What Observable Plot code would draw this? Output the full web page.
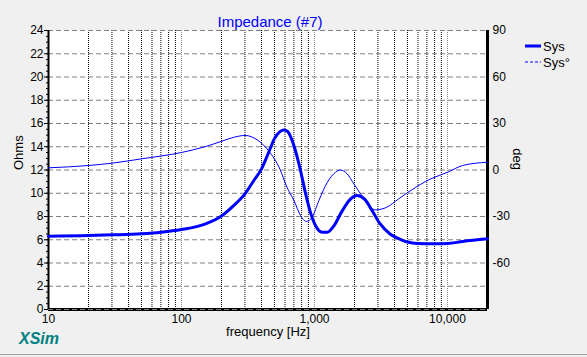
<!DOCTYPE html>
<html>
<head>
<meta charset="utf-8">
<script src="https://cdn.jsdelivr.net/npm/d3@7"></script>
<script src="https://cdn.jsdelivr.net/npm/@observablehq/plot@0.6"></script>
<style>
  html, body { margin: 0; padding: 0; background: #f0f0f0; }
  #wrap { position: relative; width: 587px; height: 357px; overflow: hidden; background: #f0f0f0;
          font-family: "Liberation Sans", Arial, sans-serif; }
  #wrap svg.plot { position: absolute; left: 0; top: 0; }
  #legend { position: absolute; left: 0; top: 0; }
  .xsim { position: absolute; left: 19px; top: 330px; color: #008080; font-weight: bold; font-style: italic; font-size: 16px; }
  .bottomline { position: absolute; left: 0; top: 354px; width: 587px; height: 1px; background: #a0a0a0; }
</style>
</head>
<body>
<div id="wrap"></div>
<script>
// ---- data ----
const impFreq = [10, 20, 30, 50, 70, 100, 150, 200, 250, 300, 350, 400, 450, 500, 550, 590, 630, 700, 780, 860, 930, 1020, 1140, 1250, 1400, 1600, 1850, 2100, 2400, 2700, 3100, 3700, 4300, 5000, 6000, 8000, 10000, 13000, 20000];
const impOhm  = [6.31, 6.36, 6.42, 6.52, 6.65, 6.88, 7.35, 8.05, 9.0, 9.95, 11.1, 12.1, 13.45, 14.7, 15.3, 15.45, 15.3, 14.1, 12.1, 9.9, 8.4, 7.2, 6.65, 6.65, 7.2, 8.4, 9.45, 9.8, 9.45, 8.55, 7.4, 6.5, 6.1, 5.8, 5.68, 5.65, 5.67, 5.85, 6.08];

const phFreq = [10, 20, 30, 50, 100, 150, 200, 250, 300, 370, 450, 550, 620, 700, 785, 870, 960, 1080, 1250, 1440, 1570, 1760, 1980, 2220, 2560, 2880, 3500, 4300, 5300, 7500, 10000, 13000, 20000];
const phDeg  = [1.4, 2.9, 4.4, 7.2, 11.3, 15.0, 18.5, 21.2, 22.3, 19.5, 12.6, 0.5, -11, -19.6, -29.3, -33.2, -30.5, -19.6, -7.9, -1.5, 0, -2.5, -9, -15.4, -22.9, -25.7, -24, -18.6, -13.2, -5.7, -1.5, 2.9, 5];

const ohmTicks = [0, 2, 4, 6, 8, 10, 12, 14, 16, 18, 20, 22, 24];
const ohmMinor = d3.range(0, 24.01, 0.5);
const degTicks = [90, 60, 30, 0, -30, -60];
const freqTicks = [10, 100, 1000, 10000];
const freqMinor = [20, 30, 40, 50, 60, 70, 80, 90, 200, 300, 400, 500, 600, 700, 800, 900, 2000, 3000, 4000, 5000, 6000, 7000, 8000, 9000];
const freqDecade = [100, 1000, 10000];

const title = "Impedance (#7)";
const xLabel = "frequency [Hz]";
const yLabel = "Ohms";
const y2Label = "deg";
const seriesNames = ["Sys", "Sys°"];

// ---- tables ----
const imp = impFreq.map((f, i) => ({f, z: impOhm[i]}));
const ph = phFreq.map((f, i) => ({f, deg: phDeg[i]}));
// phase axis: -90..90 deg shares the frame with 0..24 Ohms
const degToOhm = d => 12 + d / 7.5;
const ohmToDeg = o => (o - 12) * 7.5;

const plot = Plot.plot({
  width: 587,
  height: 357,
  marginLeft: 48,
  marginRight: 100,
  marginTop: 30,
  marginBottom: 48,
  style: {fontFamily: "'Liberation Sans', Arial, sans-serif", fontSize: "12px", background: "transparent", color: "black"},
  x: {type: "log", domain: [10, 20000]},
  y: {domain: [0, 24]},
  marks: [
    Plot.frame({fill: "white", stroke: null}),
    Plot.ruleX(freqMinor, {stroke: "black", strokeDasharray: "1,1", strokeWidth: 1}),
    Plot.ruleX(freqDecade, {stroke: "#8c8c8c", strokeDasharray: "1,1", strokeWidth: 1}),
    Plot.ruleY([0], {stroke: "black", strokeWidth: 3}),
    Plot.ruleY(ohmTicks, {stroke: "#808080", strokeDasharray: "5,3", strokeWidth: 1}),
    Plot.ruleX([10], {stroke: "black", strokeWidth: 2}),
    Plot.ruleX([20000], {stroke: "black", strokeWidth: 3}),
    Plot.line(ph, {x: "f", y: d => degToOhm(d.deg), stroke: "#0000ff", strokeWidth: 1, curve: "monotone-x"}),
    Plot.line(imp, {x: "f", y: "z", stroke: "#0000ff", strokeWidth: 3, curve: "monotone-x"}),
    Plot.axisY(ohmMinor, {anchor: "left", tickSize: 2, tickFormat: () => "", label: null}),
    Plot.axisY(ohmTicks, {anchor: "left", tickSize: 4, tickPadding: 1, label: null, fontSize: 12}),
    Plot.axisY(degTicks.map(degToOhm), {anchor: "right", tickSize: 0, tickPadding: 5, label: null,
      tickFormat: o => String(Math.round(ohmToDeg(o))), fontSize: 12}),
    Plot.axisX(freqTicks, {anchor: "bottom", tickSize: 0, tickPadding: 5, label: null,
      tickFormat: d3.format(","), fontSize: 12}),
    Plot.text([title], {frameAnchor: "top", dy: -14, dx: 2, fill: "#0000ff", fontSize: 15}),
    Plot.text([xLabel], {frameAnchor: "bottom", dy: 26, fontSize: 13, fill: "black"}),
    Plot.text([yLabel], {frameAnchor: "left", dx: -30, rotate: -90, fontSize: 13, fill: "black"}),
    Plot.text([y2Label], {frameAnchor: "right", dx: 30, rotate: 90, fontSize: 13, fill: "black"})
  ]
});
plot.classList.add("plot");
const wrap = document.getElementById("wrap");
wrap.appendChild(plot);

// legend
const leg = d3.select(wrap).append("svg").attr("id", "legend").attr("width", 587).attr("height", 357);
const items = [{name: seriesNames[0], w: 3, dash: null}, {name: seriesNames[1], w: 1, dash: "3,2"}];
items.forEach((it, i) => {
  const y = 46 + i * 16;
  leg.append("line").attr("x1", 525).attr("x2", 541).attr("y1", y).attr("y2", y)
    .attr("stroke", "#0000ff").attr("stroke-width", it.w).attr("stroke-dasharray", it.dash);
  leg.append("text").attr("x", 543).attr("y", y).attr("dy", "0.35em")
    .attr("font-family", "'Liberation Sans', Arial, sans-serif").attr("font-size", 13).attr("fill", "black").text(it.name);
});

d3.select(wrap).append("div").attr("class", "xsim").text("XSim");
d3.select(wrap).append("div").attr("class", "bottomline");
</script>
</body>
</html>
